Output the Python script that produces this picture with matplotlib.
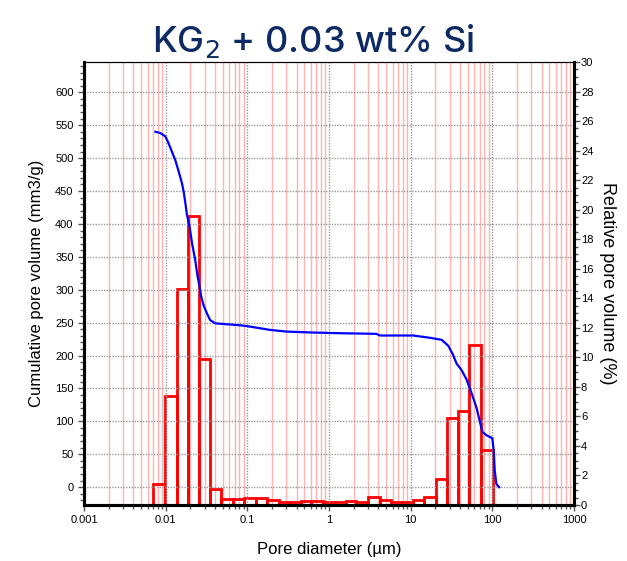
import numpy as np
import matplotlib
matplotlib.use("Agg")
import matplotlib.pyplot as plt
from matplotlib.ticker import FixedLocator, MultipleLocator, NullFormatter, FuncFormatter

plt.rcParams['font.family'] = ['Liberation Sans', 'DejaVu Sans']

# histogram bins (pore diameter, um) and relative pore volume (%)
bin_edges = [0.00705, 0.0098, 0.0136, 0.0189, 0.0258, 0.0348, 0.0474, 0.0659,
             0.0906, 0.126, 0.175, 0.243, 0.329, 0.449, 0.607, 0.84, 1.18, 1.6,
             2.14, 3.0, 4.17, 5.74, 7.8, 10.8, 14.7, 20.2, 27.5, 37.6, 51.6,
             71.8, 102]
rel_volume = [1.43, 7.4, 14.6, 19.6, 9.9, 1.1, 0.4, 0.4, 0.46, 0.46, 0.32,
              0.19, 0.19, 0.26, 0.26, 0.19, 0.19, 0.26, 0.18, 0.53, 0.34,
              0.18, 0.18, 0.34, 0.54, 1.75, 5.9, 6.4, 10.85, 3.7]

# cumulative intrusion curve
cum_diam = [0.0075, 0.0086, 0.0099, 0.0108, 0.0119, 0.0131, 0.0144, 0.0158,
            0.0166, 0.0174, 0.0182, 0.0196, 0.021, 0.023, 0.0246, 0.026,
            0.0272, 0.029, 0.032, 0.035, 0.0404, 0.051, 0.082, 0.108, 0.19,
            0.30, 0.64, 1.36, 3.8, 4.2, 10.8, 17.2, 23.9, 28.8, 33.1, 36.4,
            41.9, 48.2, 55.6, 63.9, 70.2, 75.6, 84.6, 100, 104, 107, 112, 121]
cum_volume = [540, 538, 533, 523, 510, 497, 480, 462, 449, 432, 414, 396, 371,
              345, 320, 305, 290, 277, 264, 254, 249, 248, 246, 244, 239,
              236.5, 235, 234, 233, 230.5, 230.5, 227, 224, 215, 201, 188,
              178, 164, 143, 121, 100, 84, 79, 74.5, 55, 25, 5, 0]

x_ticks = [0.001, 0.01, 0.1, 1, 10, 100, 1000]
x_labels = ['0.001', '0.01', '0.1', '1', '10', '100', '1000']

fig = plt.figure(figsize=(6.27, 5.61), dpi=100)
ax1 = fig.add_axes([0.134, 0.0998, 0.7815, 0.7897])
ax2 = ax1.twinx()

ax1.set_xscale('log')
ax1.set_xlim(0.001, 1000)
ax1.set_ylim(-27, 646)
ax2.set_ylim(0, 30)

# vertical grid: pink minors, gray dotted decades
minor_x = [m * 10.0 ** e for e in range(-3, 3) for m in range(2, 10)]
for v in minor_x:
    ax2.axvline(v, color='#ffb3b3', lw=1, zorder=0)
for v in x_ticks[1:-1]:
    ax1.axvline(v, color='#999999', lw=1, ls=(0, (1, 1)), zorder=1)
for v in range(0, 601, 50):
    ax1.axhline(v, color='#999999', lw=1, ls=(0, (1, 1)), zorder=1)

widths = np.diff(bin_edges)
ax2.bar(bin_edges[:-1], rel_volume, width=widths, align='edge', fill=False,
        edgecolor='#ff0000', linewidth=2, zorder=2)
ax1.plot(cum_diam, cum_volume, color='#0000ff', lw=1.6, zorder=3)

ax1.set_zorder(2)
ax2.set_zorder(1)
ax1.patch.set_visible(False)

ax1.xaxis.set_major_locator(FixedLocator(x_ticks))
ax1.xaxis.set_major_formatter(FuncFormatter(lambda v, p: x_labels[x_ticks.index(v)] if v in x_ticks else ''))
ax1.xaxis.set_minor_locator(FixedLocator(minor_x))
ax1.xaxis.set_minor_formatter(NullFormatter())
ax1.yaxis.set_major_locator(FixedLocator(range(0, 601, 50)))
ax1.yaxis.set_minor_locator(MultipleLocator(10))
ax2.yaxis.set_major_locator(MultipleLocator(2))
ax2.yaxis.set_minor_locator(MultipleLocator(0.5))

for ax in (ax1, ax2):
    ax.tick_params(which='both', labelsize=8, color='#555555', direction='out')
    ax.tick_params(which='major', length=4, width=1)
    ax.tick_params(which='minor', length=3, width=1)
    for s in ('left', 'right', 'bottom'):
        ax.spines[s].set_linewidth(2.2)
    ax.spines['top'].set_linewidth(0.8)
ax2.tick_params(axis='y', pad=1)

ax1.set_xlabel('Pore diameter (µm)', fontsize=12, labelpad=12)
ax1.set_ylabel('Cumulative pore volume (mm3/g)', fontsize=12, labelpad=8)
ax2.set_ylabel('Relative pore volume (%)', fontsize=13, rotation=270, labelpad=16)

fig.text(0.5, 0.927, 'KG$_2$ + 0.03 wt% Si', ha='center', va='center',
         fontsize=26, color='#0d2a64', family=['Inter', 'DejaVu Sans'],
         weight='medium')

fig.savefig('out.png', dpi=100)
